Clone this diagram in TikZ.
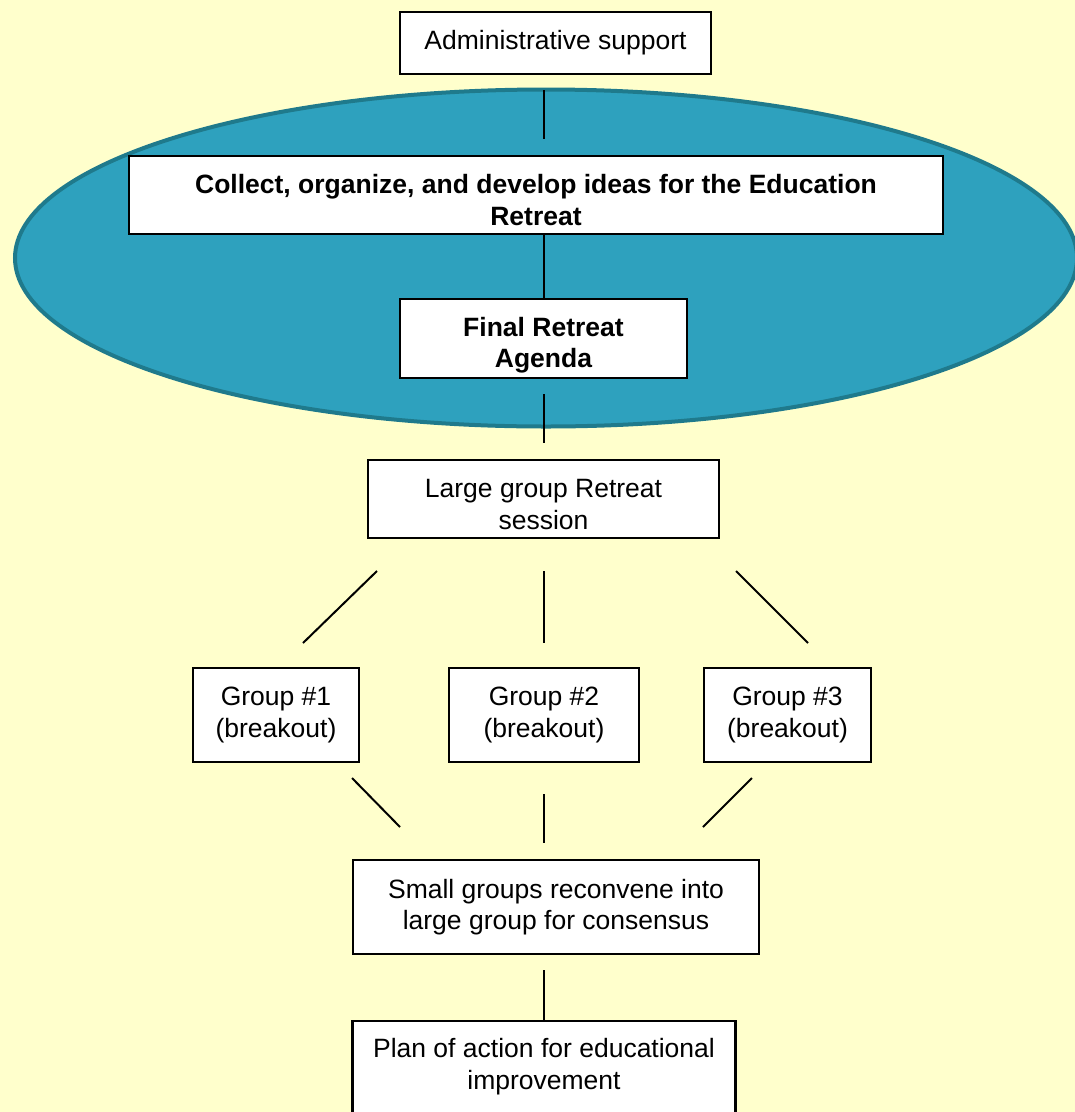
\documentclass[tikz,border=0pt]{standalone}
\usepackage{fontspec}
\setmainfont{Liberation Sans}
\definecolor{paper}{HTML}{FFFFCC}
\definecolor{tealfill}{HTML}{2EA1BE}
\definecolor{tealedge}{HTML}{1F7A8C}
\newcommand{\toppad}[1]{\rule{0pt}{#1}}
\tikzset{
  stepbox/.style={rectangle, draw=black, fill=white, line width=2.4pt,
    inner sep=0pt, align=center, font=\fontsize{26.5}{31.5}\selectfont},
  boldbox/.style={stepbox, font=\fontsize{26.5}{31.5}\selectfont\bfseries},
  link/.style={draw=black, line width=2pt}
}
\begin{document}
\begin{tikzpicture}[x=1pt,y=-1pt]
  \useasboundingbox (0,0) rectangle (1075,1112);
  \clip (0,0) rectangle (1075,1112);
  \fill[paper] (0,0) rectangle (1075,1112);

  % planning phase ellipse
  \draw[fill=tealfill, draw=tealedge, line width=4pt]
    (546,258) ellipse [x radius=531, y radius=168.5];

  % boxes
  \node[stepbox, minimum width=311, minimum height=62] (admin) at (555.5,43) {Administrative support};
  \node[boldbox, minimum width=814, minimum height=78] (collect) at (536,195)
    {\toppad{29pt}Collect, organize, and develop ideas for the Education\\Retreat};
  \node[boldbox, minimum width=287, minimum height=79] (final) at (543.5,338.5)
    {\toppad{33pt}Final Retreat\\Agenda};
  \node[stepbox, minimum width=351, minimum height=78] (large) at (543.5,499)
    {\toppad{29pt}Large group Retreat\\session};
  \node[stepbox, minimum width=166, minimum height=94] (g1) at (276,715) {Group \#1\\(breakout)};
  \node[stepbox, minimum width=190, minimum height=94] (g2) at (544,715) {Group \#2\\(breakout)};
  \node[stepbox, minimum width=167, minimum height=94] (g3) at (787.5,715) {Group \#3\\(breakout)};
  \node[stepbox, minimum width=406, minimum height=94] (small) at (556,907)
    {Small groups reconvene into\\large group for consensus};
  \node[stepbox, anchor=north, minimum width=383, minimum height=150,
    label={[font=\fontsize{26.5}{31.5}\selectfont, align=center, anchor=north, yshift=-15pt]north:Plan of action for educational\\improvement}]
    (plan) at (544,1020) {};

  % free-standing connector ends
  \coordinate (a1) at (544,90);   \coordinate (a2) at (544,139);
  \coordinate (f1) at (544,394);  \coordinate (f2) at (544,443);
  \coordinate (l1) at (377,571);  \coordinate (l2) at (303,643);
  \coordinate (m1) at (544,571);  \coordinate (m2) at (544,643);
  \coordinate (r1) at (736,571);  \coordinate (r2) at (808,643);
  \coordinate (p1) at (352,778);  \coordinate (p2) at (400,827);
  \coordinate (q1) at (544,794);  \coordinate (q2) at (544,843);
  \coordinate (s1) at (752,778);  \coordinate (s2) at (703,827);
  \coordinate (t1) at (544,970);

  % connectors
  \draw[link] (a1) -- (a2);
  \draw[link] (final.north) -- (final.north |- collect.south);
  \draw[link] (f1) -- (f2);
  \draw[link] (l1) -- (l2);
  \draw[link] (m1) -- (m2);
  \draw[link] (r1) -- (r2);
  \draw[link] (p1) -- (p2);
  \draw[link] (q1) -- (q2);
  \draw[link] (s1) -- (s2);
  \draw[link] (t1) -- (plan.north);
\end{tikzpicture}
\end{document}
